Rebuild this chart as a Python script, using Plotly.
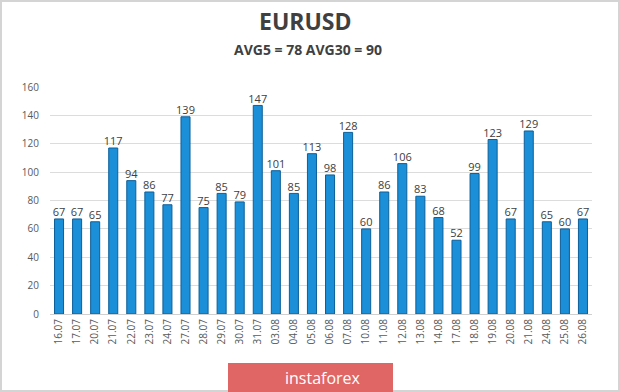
import plotly.graph_objects as go

dates = ["16.07","17.07","20.07","21.07","22.07","23.07","24.07","27.07","28.07","29.07",
         "30.07","31.07","03.08","04.08","05.08","06.08","07.08","10.08","11.08","12.08",
         "13.08","14.08","17.08","18.08","19.08","20.08","21.08","24.08","25.08","26.08"]
values = [67,67,65,117,94,86,77,139,75,85,79,147,101,85,113,98,128,60,86,106,83,68,52,99,123,67,129,65,60,67]
y_ticks = [0,20,40,60,80,100,120,140,160]

L, R, T, B = 50, 28, 87, 78
PW, PH = 620 - L - R, 392 - T - B

def px_x(x):
    return (x - L) / PW

def px_y(y):
    return (392 - B - y) / PH

fig = go.Figure()
fig.add_trace(go.Bar(
    x=dates, y=values,
    marker=dict(color="#1b8fd8", line=dict(color="#0d5f99", width=1)),
    hoverinfo="x+y",
))
fig.add_trace(go.Scatter(
    x=dates, y=values, mode="text",
    text=[str(v) for v in values], textposition="top center",
    textfont=dict(family="Open Sans, sans-serif", size=11, color="#404040"),
    cliponaxis=False, hoverinfo="skip",
))
fig.update_layout(
    width=620, height=392,
    margin=dict(l=L, r=R, t=T, b=B),
    paper_bgcolor="white", plot_bgcolor="white",
    bargap=0.5, showlegend=False,
    font=dict(family="Open Sans, sans-serif", color="#595959"),
)
fig.update_yaxes(range=[0,160], tickvals=y_ticks, showgrid=True, gridcolor="#dcdcdc",
                 zeroline=False, tickfont=dict(size=10, color="#595959"), ticks="",
                 showline=False, ticklabelstandoff=10)
fig.update_xaxes(type="category", range=[-0.5, len(dates) - 0.5], tickangle=-90,
                 tickfont=dict(size=10, color="#595959"), showline=True,
                 linecolor="#d0d0d0", ticks="")
fig.add_annotation(text="<b>EURUSD</b>", xref="paper", yref="paper", x=px_x(305),
                   xanchor="center", y=px_y(21), yanchor="middle", showarrow=False,
                   font=dict(size=23, color="#404040"))
fig.add_annotation(text="<b>AVG5 = 78 AVG30 = 90</b>", xref="paper", yref="paper", x=px_x(308),
                   xanchor="center", y=px_y(49), yanchor="middle", showarrow=False,
                   font=dict(size=14, color="#404040"))
# border
fig.add_shape(type="rect", xref="paper", yref="paper", x0=px_x(1), x1=px_x(619),
              y0=px_y(391), y1=px_y(1), line=dict(color="#d4d4d4", width=2),
              fillcolor="rgba(0,0,0,0)")
# watermark
fig.add_shape(type="rect", xref="paper", yref="paper", x0=px_x(228), x1=px_x(393),
              y0=px_y(392), y1=px_y(363), line=dict(width=0), fillcolor="#e06666")
fig.add_annotation(text="instaforex", xref="paper", yref="paper", x=px_x(323), y=px_y(378),
                   yanchor="middle", showarrow=False, font=dict(size=16, color="white"))
fig.write_html("out.html", config={"displayModeBar": False},
               post_script="document.body.style.margin='0';")
